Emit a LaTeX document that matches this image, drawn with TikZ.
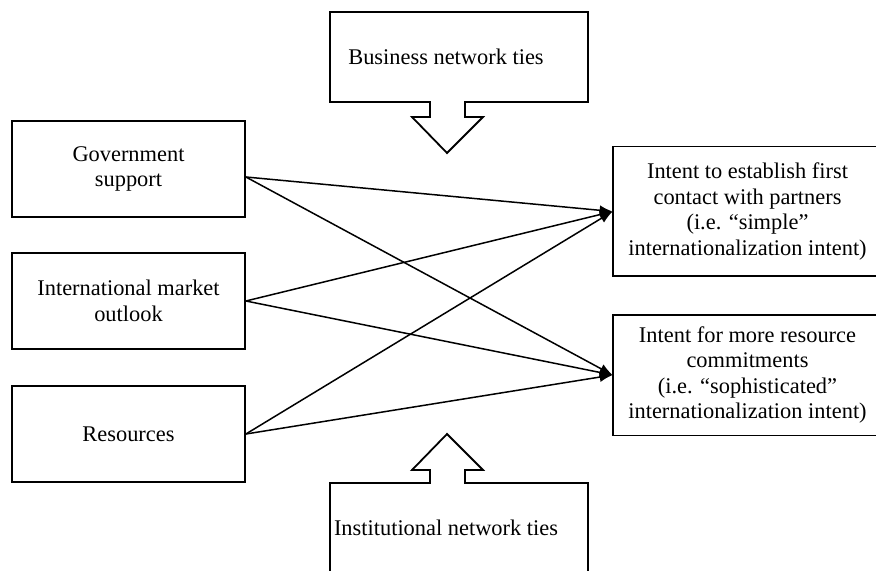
\documentclass[tikz,border=0pt]{standalone}
\usepackage{fontspec}
\setmainfont{Liberation Serif}
\usetikzlibrary{arrows.meta,positioning}

\begin{document}
\begin{tikzpicture}[x=0.5pt, y=-0.5pt,
            font=\fontsize{11.2}{12.7}\selectfont,
            node distance=66pt,
            factor/.style={rectangle, draw, line width=0.9pt, inner sep=0pt, minimum width=116.5pt, minimum height=48pt, align=center},
            intent/.style={rectangle, inner sep=0pt, minimum width=134.5pt, align=center},
            boxline/.style={line width=0.9pt},
            tie/.style={inner sep=0pt},
            blockarrow/.style={draw, line width=0.9pt, line join=miter},
            paths/.style={line width=0.75pt, -{Latex[length=6.5pt,width=5pt]}}
        ]
            \useasboundingbox (0,0) rectangle (876,571);

            % Nodes: antecedents
            \node[factor] (gov) at (128.5,169) {Government\\support};
            \node[factor, below of = gov] (market) {International market\\outlook};
            \node[factor, below of = market, yshift = -0.5pt] (res) {Resources};

            % Nodes: intentions (boxes run past the right edge)
            \node[intent, minimum height=64.5pt] (simple) at (747.5,211.5) {Intent to establish first\\contact with partners\\(i.e. “simple”\\internationalization intent)};
            \node[intent, minimum height=60pt, below of = simple, yshift = -15.75pt] (soph) {Intent for more resource\\commitments\\(i.e. “sophisticated”\\internationalization intent)};
            \draw[boxline] (simple.north west) rectangle ([xshift = 20pt]simple.south east);
            \draw[boxline] (soph.north west) rectangle ([xshift = 20pt]soph.south east);

            % Nodes: moderators
            \node[tie] (business) at (446,57) {Business network ties};
            \node[tie] (institutional) at (446,528) {Institutional network ties};

            % Block arrows around the moderators
            \draw[blockarrow] (330,102) -- (330,12) -- (588,12) -- (588,102) -- (465,102) -- (465,117) -- (483,117)
                -- (447,153) -- (412,117) -- (430,117) -- (430,102) -- cycle;
            \draw[blockarrow] (330,590) -- (330,483) -- (430,483) -- (430,470) -- (412,470) -- (447,434)
                -- (483,470) -- (465,470) -- (465,483) -- (588,483) -- (588,590);

            % Paths: direct effects
            \coordinate (gov-out) at ([yshift = -4pt]gov.east);
            \foreach \src in {gov-out, market.east, res.east} {
                \draw[paths] (\src) -- (simple.west);
                \draw[paths] (\src) -- (soph.west);
            }
        \end{tikzpicture}
\end{document}
